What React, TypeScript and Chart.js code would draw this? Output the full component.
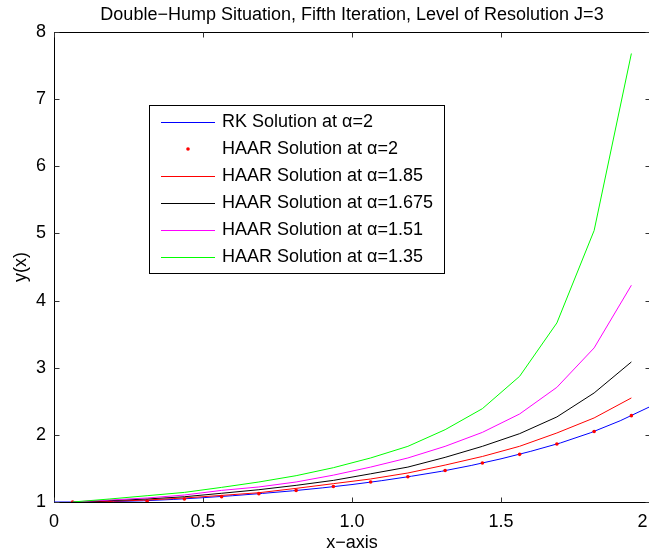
import React, { useEffect, useRef } from "react";
import { Chart, registerables } from "chart.js";

Chart.register(...registerables);

const TITLE = "Double\u2212Hump Situation, Fifth Iteration, Level of Resolution J=3";
const X_LABEL = "x\u2212axis";
const Y_LABEL = "y(x)";
const X_TICKS = [0, 0.5, 1, 1.5, 2];
const Y_TICKS = [1, 2, 3, 4, 5, 6, 7, 8];

const SERIES_LABELS = [
  "RK Solution at \u03b1=2",
  "HAAR Solution at \u03b1=2",
  "HAAR Solution at \u03b1=1.85",
  "HAAR Solution at \u03b1=1.675",
  "HAAR Solution at \u03b1=1.51",
  "HAAR Solution at \u03b1=1.35",
];

// collocation points (J=3)
const haarX = [
  0.0625, 0.1875, 0.3125, 0.4375, 0.5625, 0.6875, 0.8125, 0.9375,
  1.0625, 1.1875, 1.3125, 1.4375, 1.5625, 1.6875, 1.8125, 1.9375,
];

// RK reference solution
const rkX = [0, 0.1, 0.2, 0.3, 0.4, 0.5, 0.6, 0.7, 0.8, 0.9, 1.0, 1.1, 1.2, 1.3, 1.4, 1.5, 1.6, 1.7, 1.8, 1.9, 2.0];
const rkY = [1.0, 1.0, 1.006, 1.018, 1.038, 1.064, 1.094, 1.128, 1.166, 1.21, 1.26, 1.318, 1.384, 1.457, 1.544, 1.643, 1.755, 1.88, 2.03, 2.21, 2.42];

const haarA200 = [1.0, 1.003, 1.015, 1.045, 1.08, 1.124, 1.173, 1.23, 1.298, 1.377, 1.469, 1.58, 1.71, 1.864, 2.05, 2.286];
const haarA185 = [1.0, 1.01, 1.03, 1.06, 1.098, 1.138, 1.203, 1.273, 1.343, 1.432, 1.55, 1.678, 1.83, 2.028, 2.252, 2.55];
const haarA1675 = [1.0, 1.02, 1.045, 1.078, 1.13, 1.183, 1.248, 1.322, 1.42, 1.52, 1.665, 1.829, 2.018, 2.267, 2.624, 3.086];
const haarA151 = [1.0, 1.03, 1.06, 1.104, 1.173, 1.224, 1.298, 1.4, 1.52, 1.656, 1.829, 2.037, 2.311, 2.708, 3.295, 4.228];
const haarA135 = [1.0, 1.045, 1.094, 1.143, 1.218, 1.298, 1.392, 1.511, 1.656, 1.829, 2.077, 2.39, 2.872, 3.667, 5.043, 7.68];

const COLORS = ["#0000ff", "#ff0000", "#ff0000", "#000000", "#ff00ff", "#00ff00"];

const FONT_FAMILY = "'Liberation Sans', Arial, Helvetica, sans-serif";
const FONT_SIZE = 18;

const pts = (xs: number[], ys: number[]) => xs.map((x, i) => ({ x, y: ys[i] }));

const framePlugin = {
  id: "matlabFrame",
  beforeDatasetsDraw(chart: any) {
    const { ctx, chartArea } = chart;
    const l = Math.floor(chartArea.left) + 0.5;
    const r = Math.floor(chartArea.right) + 0.5;
    const t = Math.floor(chartArea.top) + 0.5;
    const b = Math.floor(chartArea.bottom) + 0.5;
    ctx.save();
    ctx.strokeStyle = "#000";
    ctx.lineWidth = 1;
    ctx.strokeRect(l, t, r - l, b - t);
    const tl = 5;
    const xs = chart.scales.x;
    const ys = chart.scales.y;
    ctx.strokeStyle = "#333";
    ctx.beginPath();
    xs.ticks.forEach((tk: any) => {
      const px = Math.round(xs.getPixelForValue(tk.value)) + 0.5;
      ctx.moveTo(px, b);
      ctx.lineTo(px, b - tl);
      ctx.moveTo(px, t);
      ctx.lineTo(px, t + tl);
    });
    ys.ticks.forEach((tk: any) => {
      const py = Math.round(ys.getPixelForValue(tk.value)) + 0.5;
      ctx.moveTo(l, py);
      ctx.lineTo(l + tl, py);
      ctx.moveTo(r, py);
      ctx.lineTo(r - tl, py);
    });
    ctx.stroke();
    ctx.restore();
  },
  afterDatasetsDraw(chart: any) {
    const { ctx, chartArea } = chart;
    ctx.save();
    // title
    ctx.fillStyle = "#000";
    ctx.font = `${FONT_SIZE}px ${FONT_FAMILY}`;
    ctx.textAlign = "center";
    ctx.textBaseline = "middle";
    ctx.fillText(TITLE, (chartArea.left + chartArea.right) / 2, 15);

    // legend box
    const bx = 149.5, by = 105.5, bw = 295, bh = 168;
    ctx.fillStyle = "#fff";
    ctx.fillRect(bx, by, bw, bh);
    ctx.strokeStyle = "#000";
    ctx.lineWidth = 1;
    ctx.strokeRect(bx, by, bw, bh);
    const ds = chart.data.datasets;
    ctx.textAlign = "left";
    ds.forEach((d: any, i: number) => {
      const y = 122 + 27 * i;
      if (d.showLine === false) {
        ctx.fillStyle = d.pointBackgroundColor;
        ctx.beginPath();
        ctx.arc(188, y, 1.8, 0, Math.PI * 2);
        ctx.fill();
      } else {
        ctx.strokeStyle = d.borderColor;
        ctx.lineWidth = 1;
        ctx.beginPath();
        ctx.moveTo(161, y + 0.5);
        ctx.lineTo(215, y + 0.5);
        ctx.stroke();
      }
      ctx.fillStyle = "#000";
      ctx.fillText(d.label, 222, y);
    });
    ctx.restore();
  },
};

export default function App() {
  const ref = useRef<HTMLCanvasElement | null>(null);
  useEffect(() => {
    if (!ref.current) return;
    const font = { family: FONT_FAMILY, size: FONT_SIZE };
    const lineDs = (label: string, data: any[], color: string, order: number) => ({
      label,
      data,
      borderColor: color,
      backgroundColor: color,
      borderWidth: 1,
      pointRadius: 0,
      pointHoverRadius: 0,
      tension: 0,
      fill: false,
      order,
    });
    const chart = new Chart(ref.current, {
      type: "line",
      data: {
        datasets: [
          lineDs(SERIES_LABELS[0], pts(rkX, rkY), COLORS[0], 6),
          {
            label: SERIES_LABELS[1],
            data: pts(haarX, haarA200),
            showLine: false,
            pointRadius: 1.8,
            pointHoverRadius: 1.8,
            pointBorderWidth: 0,
            pointBackgroundColor: COLORS[1],
            pointBorderColor: COLORS[1],
            borderColor: COLORS[1],
            backgroundColor: COLORS[1],
            order: 5,
          } as any,
          lineDs(SERIES_LABELS[2], pts(haarX, haarA185), COLORS[2], 4),
          lineDs(SERIES_LABELS[3], pts(haarX, haarA1675), COLORS[3], 3),
          lineDs(SERIES_LABELS[4], pts(haarX, haarA151), COLORS[4], 2),
          lineDs(SERIES_LABELS[5], pts(haarX, haarA135), COLORS[5], 1),
        ],
      },
      options: {
        animation: false,
        responsive: false,
        devicePixelRatio: 1,
        events: [],
        layout: { padding: { top: 32, right: 50, bottom: 0, left: 0 } },
        plugins: {
          legend: { display: false },
          title: { display: false },
          tooltip: { enabled: false },
        },
        scales: {
          x: {
            type: "linear",
            min: 0,
            max: 2,
            afterBuildTicks: (s: any) => {
              s.ticks = X_TICKS.map((v) => ({ value: v }));
            },
            afterFit: (s: any) => {
              s.height = 54;
            },
            grid: { display: false, drawTicks: false },
            border: { display: false },
            ticks: { color: "#000", font, padding: 9, maxRotation: 0, autoSkip: false },
            title: { display: true, text: X_LABEL, color: "#000", font, padding: { top: 0, bottom: 2 } },
          },
          y: {
            type: "linear",
            min: 1,
            max: 8,
            afterBuildTicks: (s: any) => {
              s.ticks = Y_TICKS.map((v) => ({ value: v }));
            },
            afterFit: (s: any) => {
              s.width = 54;
            },
            grid: { display: false, drawTicks: false },
            border: { display: false },
            ticks: { color: "#000", font, padding: 8, autoSkip: false },
            title: { display: true, text: Y_LABEL, color: "#000", font, padding: { top: 10, bottom: 0 } },
          },
        },
      },
      plugins: [framePlugin],
    } as any);
    return () => chart.destroy();
  }, []);

  return (
    <div
      style={{
        position: "absolute",
        left: 0,
        top: 0,
        width: 649,
        height: 556,
        overflow: "hidden",
        background: "#fff",
      }}
    >
      <canvas ref={ref} width={700} height={556} style={{ width: 700, height: 556, display: "block" }} />
    </div>
  );
}
